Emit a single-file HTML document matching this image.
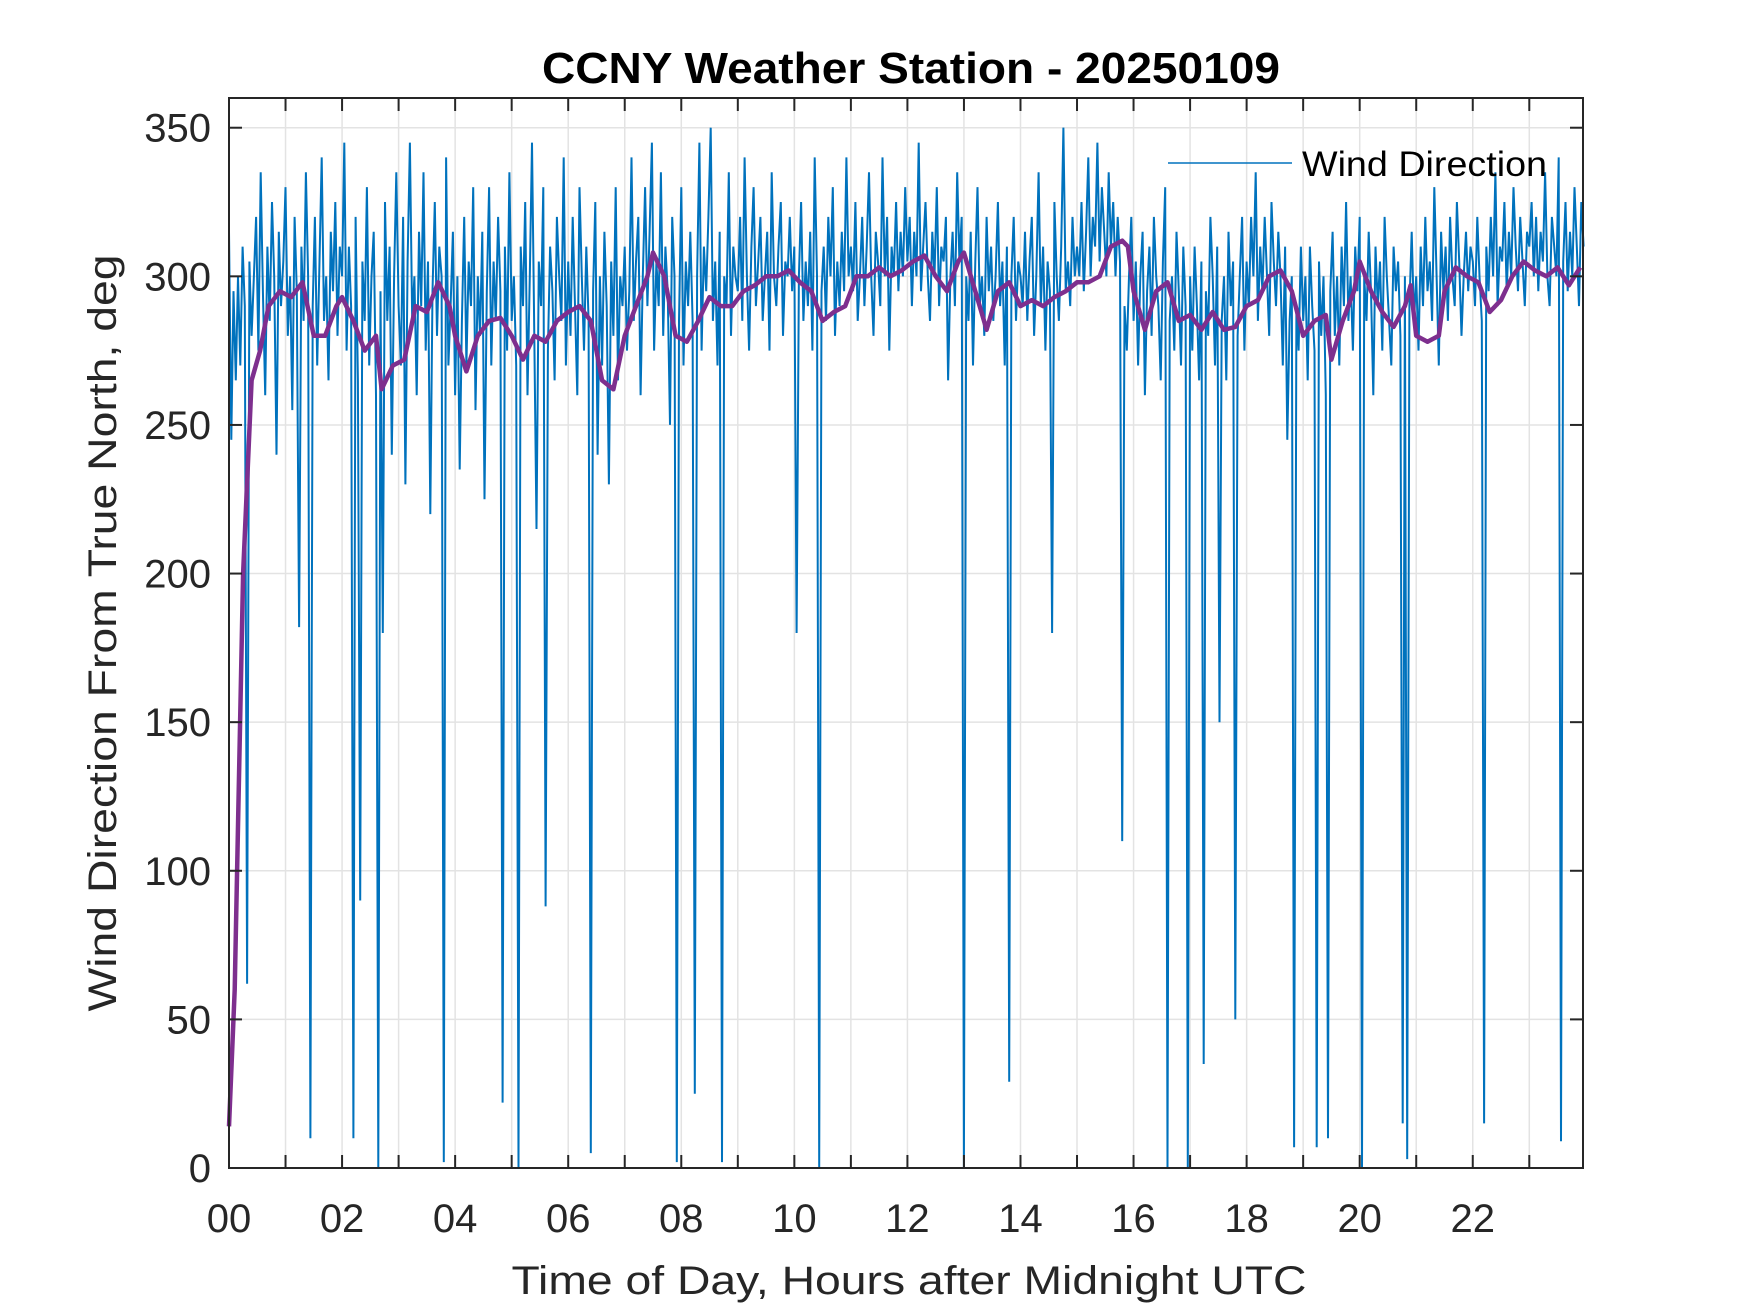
<!DOCTYPE html>
<html><head><meta charset="utf-8"><style>
html,body{margin:0;padding:0;background:#fff;}
svg{display:block;font-family:"Liberation Sans",Arial,sans-serif;}
</style></head><body>
<svg id="chart" width="1750" height="1313" viewBox="0 0 1750 1313">
<rect width="1750" height="1313" fill="#fff"/>
<g id="grid"></g>
<g id="series"></g>
<g id="axes"></g>
<text x="911" y="83" text-anchor="middle" font-size="44" font-weight="bold" fill="#000" textLength="738" lengthAdjust="spacingAndGlyphs">CCNY Weather Station - 20250109</text>
<text x="909" y="1294" text-anchor="middle" font-size="40" fill="#262626" textLength="795" lengthAdjust="spacingAndGlyphs">Time of Day, Hours after Midnight UTC</text>
<text transform="translate(116,633) rotate(-90)" text-anchor="middle" font-size="40" fill="#262626" textLength="757" lengthAdjust="spacingAndGlyphs">Wind Direction From True North, deg</text>
<g>
<line x1="1168" y1="163" x2="1292" y2="163" stroke="#0072BD" stroke-width="1.5"/>
<text x="1302" y="176" font-size="35" fill="#000" textLength="245" lengthAdjust="spacingAndGlyphs">Wind Direction</text>
</g>
</svg>
<script>
const windDir = [
315,245,295,265,300,270,310,290,62,305,280,300,320,275,335,295,260,310,285,325,300,240,315,290,305,
330,280,300,255,320,295,182,310,285,335,300,10,290,320,270,305,340,285,300,265,315,295,325,280,310,
300,345,275,310,290,10,320,265,90,305,285,330,270,300,315,260,0,295,180,325,285,310,240,300,335,
290,270,320,230,305,345,285,300,260,315,290,335,275,305,220,295,325,280,310,300,2,340,270,290,315,
260,300,235,285,320,270,305,290,330,255,300,280,315,225,295,330,270,305,285,320,295,22,310,275,335,
285,300,270,0,310,290,325,260,300,345,280,215,305,290,330,88,275,310,295,265,320,300,285,340,270,
305,280,320,290,260,330,300,275,310,285,5,295,325,240,300,270,315,290,230,305,280,330,265,300,290,
310,275,295,340,285,305,320,260,300,330,290,315,345,275,305,290,335,280,310,295,250,320,300,2,285,
330,270,305,290,315,285,25,300,345,275,310,295,320,350,285,305,270,315,2,300,290,335,280,310,300,
295,320,285,340,300,275,310,330,290,305,320,285,300,315,275,335,300,290,310,325,280,305,300,320,295,
310,180,300,325,285,305,290,315,275,340,300,0,295,310,285,320,300,330,280,305,290,315,295,340,300,
310,295,325,285,300,320,290,310,335,300,280,315,305,290,340,300,320,275,310,300,325,295,315,300,330,
305,320,290,315,300,345,295,310,325,300,285,315,300,330,290,310,305,320,265,300,315,290,335,305,320,
0,300,285,315,270,305,330,290,300,280,320,295,310,285,300,325,290,305,270,310,29,300,320,285,305,
300,290,315,285,305,320,280,300,335,290,310,275,305,295,180,325,300,285,310,350,295,305,290,320,300,
310,300,325,295,315,340,300,320,310,345,305,330,315,300,335,310,325,300,320,305,110,290,275,300,320,
285,305,270,300,315,260,295,310,280,320,300,290,265,305,330,0,285,300,275,315,295,270,310,290,0,
300,275,310,290,265,305,35,295,280,320,300,270,310,150,285,300,265,315,290,305,50,280,300,320,275,
305,290,320,300,335,285,310,295,320,300,280,325,305,290,315,300,270,310,245,285,300,7,290,275,310,
285,300,265,310,290,275,7,305,280,300,260,10,295,315,280,300,270,310,290,325,285,300,275,310,295,
320,0,300,285,315,295,260,310,290,305,275,320,300,285,270,310,295,305,280,15,300,3,290,315,285,
300,275,310,290,320,295,305,285,330,300,270,315,295,310,285,320,300,290,325,305,280,300,315,295,310,
305,290,320,300,285,15,310,295,320,300,335,290,310,305,325,295,315,300,330,310,295,320,305,290,315,
310,325,300,320,295,315,305,335,300,290,320,310,300,340,9,305,325,295,315,300,330,310,290,325,310
];
const windStepHours = 0.04;
const avgHours = [0,0.1,0.25,0.4,0.55,0.7,0.9,1.1,1.3,1.5,1.7,1.9,2.0,2.2,2.4,2.6,2.7,2.9,3.1,3.3,3.5,3.7,3.9,4.0,4.2,4.4,4.6,4.8,5.0,5.2,5.4,5.6,5.8,6.0,6.2,6.4,6.6,6.8,7.0,7.2,7.4,7.5,7.7,7.9,8.1,8.3,8.5,8.7,8.9,9.1,9.3,9.5,9.7,9.9,10.1,10.3,10.5,10.7,10.9,11.1,11.3,11.5,11.7,11.9,12.1,12.3,12.5,12.7,12.9,13.0,13.2,13.4,13.6,13.8,14.0,14.2,14.4,14.6,14.8,15.0,15.2,15.4,15.6,15.8,15.9,16.0,16.2,16.4,16.6,16.8,17.0,17.2,17.4,17.6,17.8,18.0,18.2,18.4,18.6,18.8,19.0,19.2,19.4,19.5,19.7,19.9,20.0,20.2,20.4,20.6,20.8,20.9,21.0,21.2,21.4,21.5,21.7,21.9,22.1,22.3,22.5,22.7,22.9,23.1,23.3,23.5,23.7,23.9];
const avgDir = [14,60,200,265,275,290,295,293,298,280,280,290,293,285,275,280,262,270,272,290,288,298,290,280,268,280,285,286,280,272,280,278,285,288,290,285,265,262,280,290,300,308,300,280,278,285,293,290,290,295,297,300,300,302,298,295,285,288,290,300,300,303,300,302,305,307,300,295,305,308,295,282,295,298,290,292,290,293,295,298,298,300,310,312,310,295,282,295,298,285,287,282,288,282,283,290,292,300,302,295,280,285,287,272,285,295,305,295,288,283,290,297,280,278,280,295,303,300,298,288,292,300,305,302,300,303,297,303];
const xTickLabels = ["00","02","04","06","08","10","12","14","16","18","20","22"];
const yTickValues = [0,50,100,150,200,250,300,350];

const L=229,R=1583,T=98,B=1168, XMAX=23.95, YMAX=360;
const NS="http://www.w3.org/2000/svg";
function xs(h){return L+(h/XMAX)*(R-L);}
function ys(v){return B-(v/YMAX)*(B-T);}
function mk(tag,attrs,parent){const e=document.createElementNS(NS,tag);for(const k in attrs)e.setAttribute(k,attrs[k]);parent.appendChild(e);return e;}
const grid=document.getElementById('grid'),axes=document.getElementById('axes'),series=document.getElementById('series');
for(let h=1;h<24;h++){const g=mk('line',{x1:xs(h),x2:xs(h),y1:T,y2:B,stroke:'#e3e3e3','stroke-width':1.5},grid);

}
yTickValues.forEach(v=>{if(v===0)return;const g=mk('line',{x1:L,x2:R,y1:ys(v),y2:ys(v),stroke:'#e3e3e3','stroke-width':1.5},grid);

});
let d='';windDir.forEach((v,i)=>{d+=(i?'L':'M')+xs(i*windStepHours).toFixed(1)+' '+ys(v).toFixed(1);});
const bl=mk('path',{d:d,fill:'none',stroke:'#0072BD','stroke-width':2,'stroke-linejoin':'miter'},series);


let d2='';avgHours.forEach((h,i)=>{d2+=(i?'L':'M')+xs(h).toFixed(1)+' '+ys(avgDir[i]).toFixed(1);});
const pl=mk('path',{d:d2,fill:'none',stroke:'#7E2F8E','stroke-width':4.5,'stroke-linejoin':'round'},series);


const box=mk('rect',{x:L,y:T,width:R-L,height:B-T,fill:'none',stroke:'#262626','stroke-width':2},axes);


for(let h=0;h<24;h++){
 mk('line',{x1:xs(h),x2:xs(h),y1:B,y2:B-13,stroke:'#262626','stroke-width':2},axes);
 mk('line',{x1:xs(h),x2:xs(h),y1:T,y2:T+13,stroke:'#262626','stroke-width':2},axes);
}
xTickLabels.forEach((s,i)=>{const t=mk('text',{x:xs(i*2),y:1232,'text-anchor':'middle','font-size':40,fill:'#262626'},axes);t.textContent=s;

});
yTickValues.forEach(v=>{
 mk('line',{x1:L,x2:L+13,y1:ys(v),y2:ys(v),stroke:'#262626','stroke-width':2},axes);
 mk('line',{x1:R,x2:R-13,y1:ys(v),y2:ys(v),stroke:'#262626','stroke-width':2},axes);
 const t=mk('text',{x:211,y:ys(v)+14,'text-anchor':'end','font-size':40,fill:'#262626'},axes);t.textContent=v;
 
 
});
</script>
</body></html>
